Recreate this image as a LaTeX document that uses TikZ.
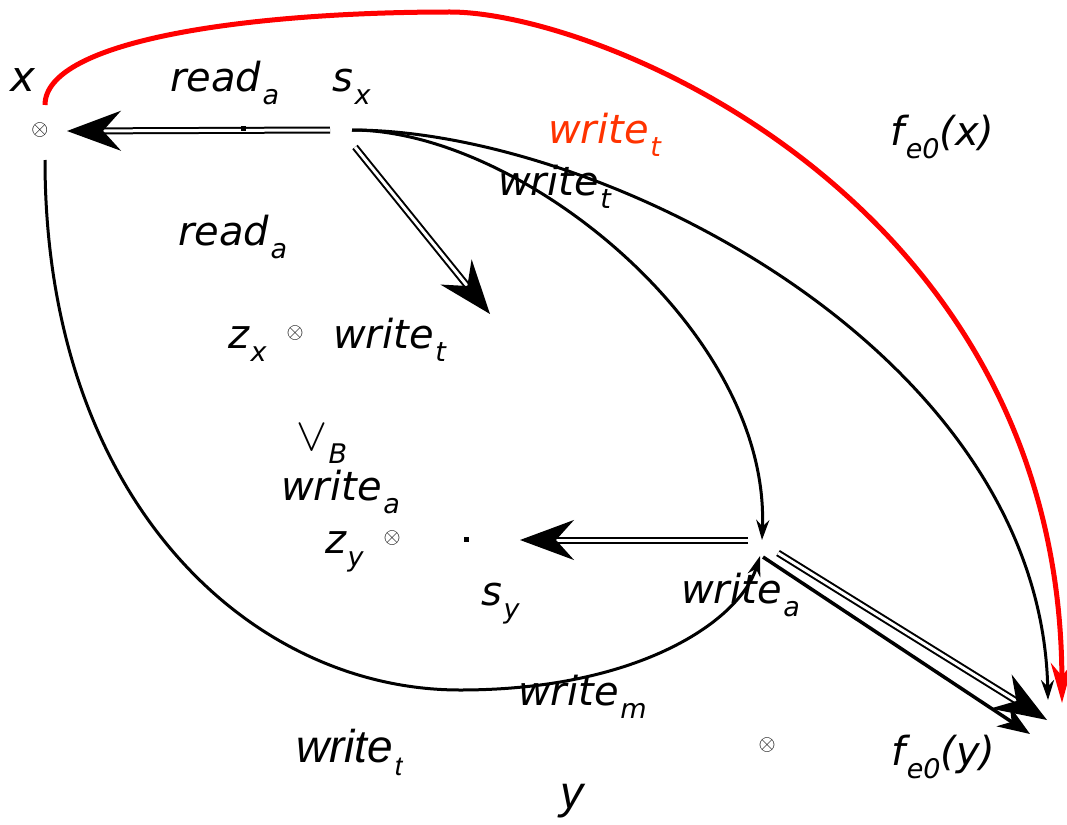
\documentclass[tikz,border=0pt]{standalone}
\usepackage{fontspec}
\usepackage{graphicx}
\setmainfont{DejaVu Sans}
\newfontfamily\arialfont{Liberation Sans}
\usetikzlibrary{arrows.meta}
\definecolor{wred}{RGB}{255,51,0}
% lowered subscript
\newcommand{\sbs}[1]{\kern1.5pt\raisebox{-13pt}{\fontsize{27}{27}\selectfont #1}}

\begin{document}
\begin{tikzpicture}[x=1pt,y=-1pt,
  lbl/.style={inner sep=0pt, anchor=base west, font=\fontsize{40}{44}\selectfont\itshape},
  alb/.style={inner sep=0pt, anchor=base west, font=\fontsize{46}{50}\selectfont\arialfont\itshape},
  otm/.style={inner sep=0pt},
  dotm/.style={fill=black, inner sep=0pt, minimum size=5pt},
  dbl/.style={draw=black, double=white, line width=2pt, double distance=3pt,
    -{Stealth[length=54pt,width=40pt,inset=18pt]}},
  crv/.style={line width=3pt, -{Stealth[length=20pt,width=13pt]}},
  redc/.style={red, line width=5pt, -{Stealth[length=40pt,width=22pt]}}]

\useasboundingbox (0,0) rectangle (1067,824);

% Product points
\node[otm] (ox) at (40,130) {\resizebox{17pt}{!}{$\otimes$}};
\node[otm] (ozx) at (295,333) {\resizebox{17pt}{!}{$\otimes$}};
\node[otm] (ozy) at (392,538) {\resizebox{17pt}{!}{$\otimes$}};
\node[otm] (oy) at (767,745) {\resizebox{17pt}{!}{$\otimes$}};

% Connector ends
\coordinate (sx) at (352,130);
\coordinate (sxa) at (330,130);
\coordinate (sxb) at (355,147);
\coordinate (xa) at (67,131);
\coordinate (xb) at (45,160);
\coordinate (xr) at (45,105);
\coordinate (zxa) at (490,314);
\coordinate (wa) at (762,540);
\coordinate (wb) at (760,556);
\coordinate (wc) at (748,540);
\coordinate (wd) at (778,553);
\coordinate (we) at (763,557);
\coordinate (sya) at (520,540);
\coordinate (fya) at (1047,720);
\coordinate (fyb) at (1030,734);
\coordinate (fyc) at (1048,700);
\coordinate (fyr) at (1062,703);

% Labels
\node[lbl, font=\fontsize{42}{46}\selectfont\itshape] (xl) at (10,92) {x};
\node[lbl] (rda) at (170,92) {read\sbs{a}};
\node[lbl] (sxl) at (332,92) {s\sbs{x}};
\node[lbl, wred] (wtr) at (548,143) {write\sbs{t}};
\node[lbl] (wtb) at (498,195) {write\sbs{t}};
\node[lbl] (fx) at (890,146) {f\sbs{e0}(x)};
\node[lbl] (rdb) at (178,245) {read\sbs{a}};
\node[lbl] (zx) at (228,348) {z\sbs{x}};
\node[lbl] (wtz) at (333,348) {write\sbs{t}};
\node[lbl] (vb) at (296,450) {\resizebox{31pt}{!}{$\vee$}\sbs{B}};
\node[lbl] (wam) at (281,500) {write\sbs{a}};
\node[lbl] (zy) at (325,553) {z\sbs{y}};
\node[lbl] (sy) at (481,605) {s\sbs{y}};
\node[lbl] (war) at (681,603) {write\sbs{a}};
\node[lbl] (wm) at (518,705) {write\sbs{m}};
\node[alb] (wtl) at (296,762) {write\sbs{t}};
\node[lbl] (fy) at (891,765) {f\sbs{e0}(y)};
\node[alb] (yl) at (560,808) {y};

% Double arrows
\draw[dbl] (sxa) -- (xa);
\draw[dbl] (sxb) -- (zxa);
\draw[dbl] (wc) -- (sya);
\draw[dbl] (wd) -- (fya);
\draw[line width=3.5pt, -{Stealth[length=32pt,width=24pt,inset=10pt]}] (we) -- (fyb);

% Curved arrows
\draw[crv] (sx) .. controls (520,130) and (770,330) .. (wa);
\draw[crv] (sx) .. controls (600,130) and (1040,350) .. (fyc);
\draw[crv] (xb) .. controls (45,500) and (250,690) .. (460,690)
  .. controls (640,690) and (740,620) .. (wb);
\draw[redc] (xr) .. controls (45,40) and (250,12) .. (450,12)
  .. controls (600,12) and (1060,200) .. (fyr);

% Dots
\node[dotm] (d1) at (243,128) {};
\node[dotm] (d2) at (466,539) {};

\end{tikzpicture}
\end{document}
